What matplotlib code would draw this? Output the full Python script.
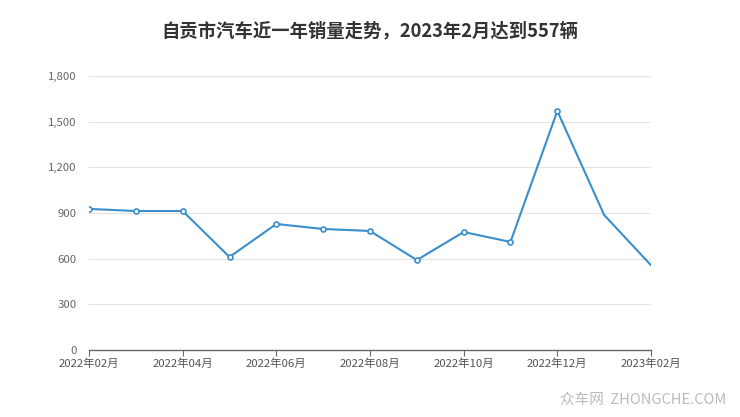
import matplotlib.pyplot as plt

plt.rcParams['font.family'] = ['Noto Sans CJK SC', 'DejaVu Sans']

# 数据
months = ['2022年02月', '2022年03月', '2022年04月', '2022年05月', '2022年06月', '2022年07月',
          '2022年08月', '2022年09月', '2022年10月', '2022年11月', '2022年12月', '2023年01月',
          '2023年02月']
sales = [927, 913, 913, 611, 828, 795, 782, 591, 775, 710, 1570, 887, 557]
yticks = [0, 300, 600, 900, 1200, 1500, 1800]
title = '自贡市汽车近一年销量走势，2023年2月达到557辆'

fig = plt.figure(figsize=(7.4, 4.17), dpi=100)
ax = fig.add_axes([0.1203, 0.1607, 0.7594, 0.657])

x = list(range(len(months)))
color = '#3a8fcb'
ax.plot(x, sales, color=color, linewidth=1.5, zorder=3)
ax.plot(x[:11], sales[:11], linestyle='none', marker='o', markersize=3.6,
        markerfacecolor='white', markeredgecolor=color, markeredgewidth=1.2, zorder=4)

ax.set_xlim(0, len(months) - 1)
ax.set_ylim(0, 1800)
ax.set_yticks(yticks)
ax.set_yticklabels([f'{v:,}' for v in yticks])
ax.set_xticks(x[::2])
ax.set_xticklabels(months[::2])

ax.grid(axis='y', color='#e3e3e3', linewidth=0.8)
ax.set_axisbelow(True)
for s in ['top', 'right', 'left']:
    ax.spines[s].set_visible(False)
ax.spines['bottom'].set_color('#666666')
ax.spines['bottom'].set_linewidth(1)

ax.tick_params(axis='y', length=0, pad=9, labelsize=8.2, labelcolor='#666666')
ax.tick_params(axis='x', length=4, direction='out', color='#666666', pad=2,
               labelsize=8.2, labelcolor='#555555')

fig.text(0.5, 0.925, title, ha='center', va='center', fontsize=13.2, fontweight='bold',
         color='#333333')
fig.text(0.982, 0.04, '众车网  ZHONGCHE.COM', ha='right', va='center', fontsize=10.5,
         color='#bbbbbb')

plt.savefig('out.png', dpi=100)
